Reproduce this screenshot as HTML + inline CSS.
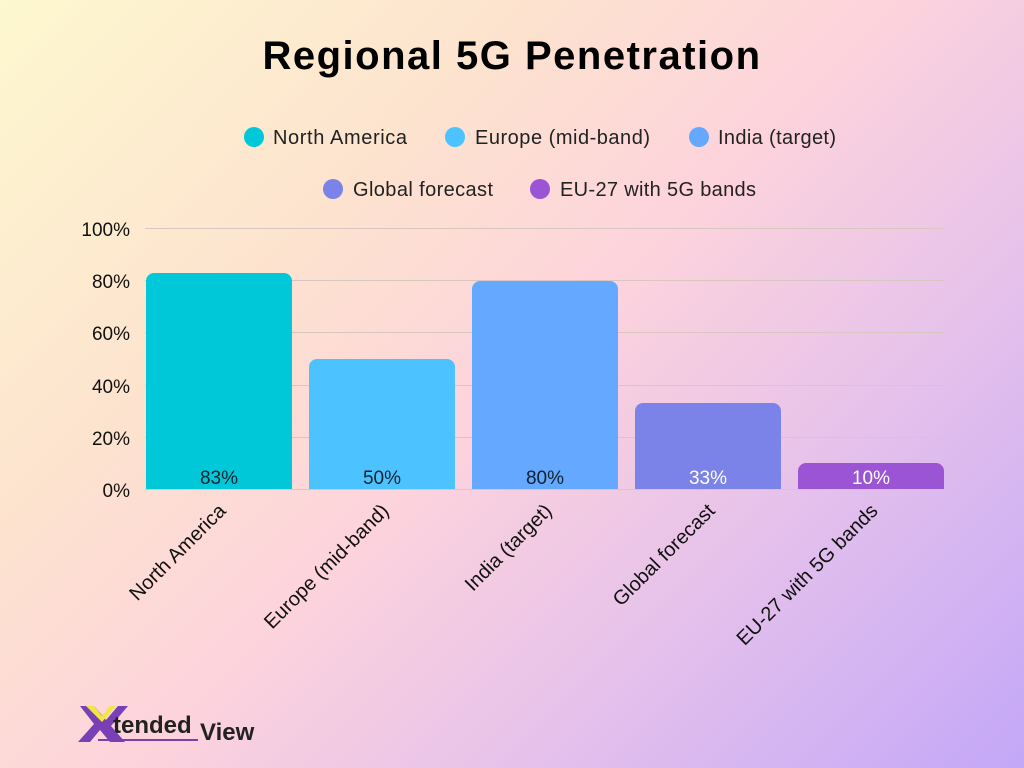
<!DOCTYPE html>
<html><head><meta charset="utf-8"><style>
body{margin:0;width:1024px;height:768px;overflow:hidden;font-family:"Liberation Sans",sans-serif;
background:linear-gradient(135deg,#fdf8cf 0%,#fde3cf 30%,#fdd3dc 50%,#e8c3ea 70%,#c3a7f8 100%);}
</style></head><body>
<svg width="1024" height="768" xmlns="http://www.w3.org/2000/svg" style="position:absolute;left:0;top:0">
<text x="512" y="69" text-anchor="middle" font-size="40" font-weight="bold" letter-spacing="1.5" fill="#000">Regional 5G Penetration</text>
<g font-size="20" fill="#222">
<circle cx="254" cy="137" r="10" fill="#00c8d8"/><text x="273" y="144" textLength="134">North America</text>
<circle cx="455" cy="137" r="10" fill="#4cc3ff"/><text x="475" y="144" textLength="175">Europe (mid-band)</text>
<circle cx="699" cy="137" r="10" fill="#64a8ff"/><text x="718" y="144" textLength="118">India (target)</text>
<circle cx="333" cy="189" r="10" fill="#7b82e8"/><text x="353" y="196" textLength="140">Global forecast</text>
<circle cx="540" cy="189" r="10" fill="#9b55d4"/><text x="560" y="196" textLength="196">EU-27 with 5G bands</text>
</g>
<g stroke="#d9c6c0" stroke-width="1">
<line x1="145" x2="944" y1="228.5" y2="228.5"/><line x1="145" x2="944" y1="280.5" y2="280.5"/>
<line x1="145" x2="944" y1="332.5" y2="332.5"/><line x1="145" x2="944" y1="385.5" y2="385.5"/>
<line x1="145" x2="944" y1="437.5" y2="437.5"/><line x1="145" x2="944" y1="489.5" y2="489.5"/>
</g>
<g font-size="19" fill="#111" text-anchor="end">
<text x="130" y="236">100%</text><text x="130" y="288">80%</text><text x="130" y="340">60%</text>
<text x="130" y="393">40%</text><text x="130" y="445">20%</text><text x="130" y="497">0%</text>
</g>
<path d="M146 489V281a8 8 0 0 1 8-8h130a8 8 0 0 1 8 8V489Z" fill="#00c8d8"/>
<path d="M309 489V367a8 8 0 0 1 8-8h130a8 8 0 0 1 8 8V489Z" fill="#4cc3ff"/>
<path d="M472 489V289a8 8 0 0 1 8-8h130a8 8 0 0 1 8 8V489Z" fill="#64a8ff"/>
<path d="M635 489V411a8 8 0 0 1 8-8h130a8 8 0 0 1 8 8V489Z" fill="#7b82e8"/>
<path d="M798 489V471a8 8 0 0 1 8-8h130a8 8 0 0 1 8 8V489Z" fill="#9b55d4"/>
<g font-size="19" text-anchor="middle">
<text x="219" y="484" fill="#123">83%</text><text x="382" y="484" fill="#123">50%</text>
<text x="545" y="484" fill="#123">80%</text><text x="708" y="484" fill="#fff">33%</text>
<text x="871" y="484" fill="#fff">10%</text>
</g>
<g font-size="20" fill="#111" text-anchor="end">
<text transform="translate(227,512) rotate(-45)">North America</text>
<text transform="translate(390,512) rotate(-45)">Europe (mid-band)</text>
<text transform="translate(553,512) rotate(-45)">India (target)</text>
<text transform="translate(716,512) rotate(-45)">Global forecast</text>
<text transform="translate(879,512) rotate(-45)">EU-27 with 5G bands</text>
</g>
<g>
<path d="M80 706h14l12 14 12-14h10l-17 20 14 16H110l-10-12-10 12H78l16-18Z" fill="#7b3fb5"/>
<path d="M86 706h8l8 10 8-10h6l-14 16Z" fill="#f2e640"/>
<line x1="98" y1="740" x2="198" y2="740" stroke="#7b3fb5" stroke-width="2"/>
<text x="113" y="733" font-size="24" font-weight="bold" fill="#222">tended</text>
<text x="200" y="740" font-size="24" font-weight="bold" fill="#222">View</text>
</g>
</svg>
</body></html>
